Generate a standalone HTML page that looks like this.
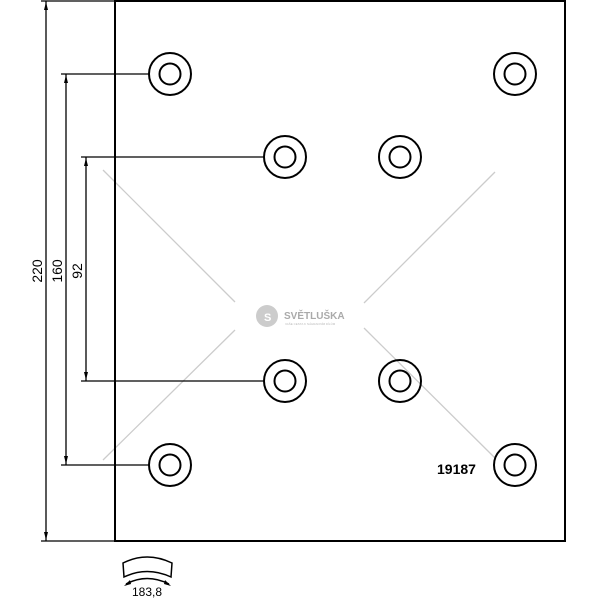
<!DOCTYPE html>
<html><head><style>body{margin:0;background:#fff}svg{display:block}</style></head><body>
<svg width="600" height="600" viewBox="0 0 600 600" xmlns="http://www.w3.org/2000/svg" font-family="Liberation Sans, sans-serif">
<g stroke="#ccc" stroke-width="1.3">
<line x1="103" y1="170" x2="235" y2="302"/><line x1="235" y1="330" x2="103" y2="460"/>
<line x1="495" y1="172" x2="364" y2="303"/><line x1="364" y1="328" x2="495" y2="458"/>
</g>
<circle cx="267" cy="316" r="11" fill="#ccc"/>
<text x="264" y="321" font-size="11" fill="#fff" font-weight="bold">S</text>
<text x="284" y="319" font-size="10" font-weight="bold" fill="#aaa">SVĚTLUŠKA</text>
<text x="285" y="325" font-size="3" fill="#bbb">VAŠE CESTA K NÁHRADNÍM DÍLŮM</text>
<rect x="115" y="1" width="450" height="540" fill="none" stroke="#000" stroke-width="2"/>
<g stroke="#000" stroke-width="1.3" fill="none">
<line x1="41" y1="1" x2="115" y2="1"/><line x1="41" y1="541" x2="115" y2="541"/>
<line x1="46" y1="1" x2="46" y2="541"/>
<line x1="61" y1="74" x2="149" y2="74"/><line x1="61" y1="465" x2="149" y2="465"/>
<line x1="66" y1="74" x2="66" y2="465"/>
<line x1="81" y1="157" x2="264" y2="157"/><line x1="81" y1="381" x2="264" y2="381"/>
<line x1="86" y1="157" x2="86" y2="381"/>
</g>
<g fill="#000">
<polygon points="46,2 44,10 48,10"/><polygon points="46,540 44,532 48,532"/>
<polygon points="66,75 64,83 68,83"/><polygon points="66,464 64,456 68,456"/>
<polygon points="86,158 84,166 88,166"/><polygon points="86,380 84,372 88,372"/>
</g>
<g stroke="#000" stroke-width="2" fill="none">
<circle cx="170" cy="74" r="21"/><circle cx="170" cy="74" r="10.5"/>
<circle cx="515" cy="74" r="21"/><circle cx="515" cy="74" r="10.5"/>
<circle cx="285" cy="157" r="21"/><circle cx="285" cy="157" r="10.5"/>
<circle cx="400" cy="157" r="21"/><circle cx="400" cy="157" r="10.5"/>
<circle cx="285" cy="381" r="21"/><circle cx="285" cy="381" r="10.5"/>
<circle cx="400" cy="381" r="21"/><circle cx="400" cy="381" r="10.5"/>
<circle cx="170" cy="465" r="21"/><circle cx="170" cy="465" r="10.5"/>
<circle cx="515" cy="465" r="21"/><circle cx="515" cy="465" r="10.5"/>
</g>
<g font-size="14" fill="#000">
<text transform="translate(42,271) rotate(-90)" text-anchor="middle">220</text>
<text transform="translate(62,271) rotate(-90)" text-anchor="middle">160</text>
<text transform="translate(82,271) rotate(-90)" text-anchor="middle">92</text>
</g>
<text x="437" y="474" font-size="14" font-weight="bold">19187</text>
<g stroke="#000" stroke-width="1.5" fill="none">
<path d="M124,577 L123,563 Q147,551 172,563 L171,577 Q147,566 124,577 Z"/>
<path d="M126,584 Q147,573 169,584"/>
</g>
<polygon points="124,586 130,580 131,584" fill="#000"/><polygon points="171,586 165,580 164,584" fill="#000"/>
<text x="147" y="596" font-size="12" text-anchor="middle">183,8</text>
</svg>
</body></html>
